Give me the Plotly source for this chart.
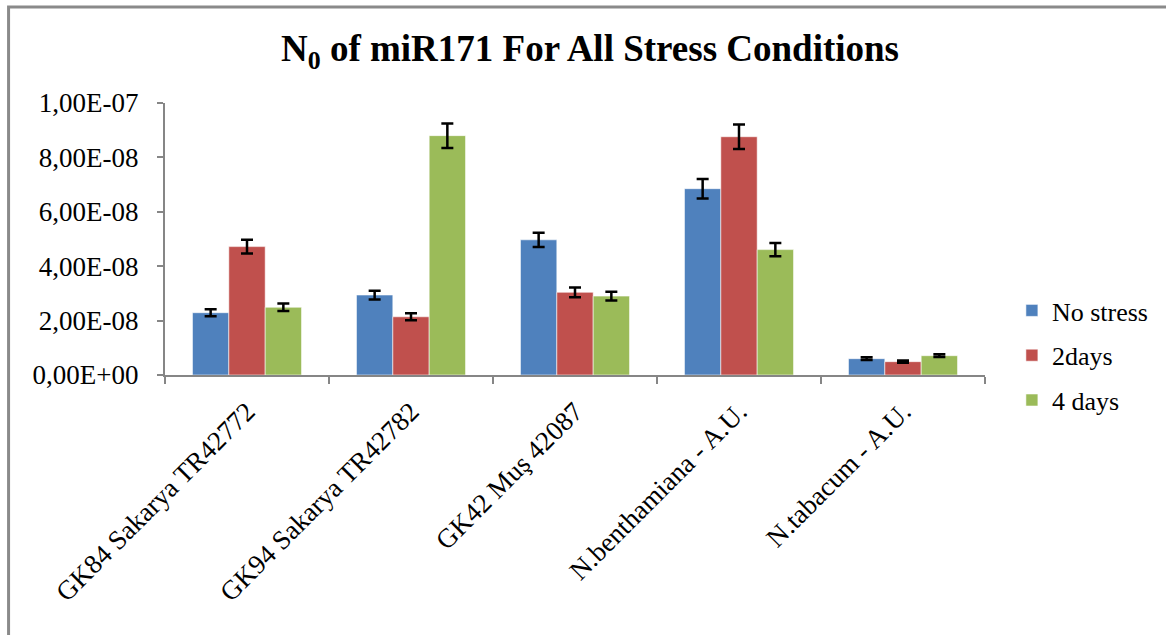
import plotly.graph_objects as go

categories = ["GK84 Sakarya TR42772", "GK94 Sakarya TR42782", "GK42 Muş 42087",
              "N.benthamiana - A.U.", "N.tabacum - A.U."]
series_names = ["No stress", "2days", "4 days"]
no_stress = [2.29e-8, 2.94e-8, 4.97e-8, 6.85e-8, 6.0e-9]
two_days = [4.72e-8, 2.14e-8, 3.04e-8, 8.76e-8, 4.9e-9]
four_days = [2.49e-8, 8.80e-8, 2.90e-8, 4.61e-8, 7.1e-9]
no_stress_err = [1.3e-9, 1.6e-9, 2.6e-9, 3.6e-9, 5e-10]
two_days_err = [2.5e-9, 1.3e-9, 1.8e-9, 4.5e-9, 4e-10]
four_days_err = [1.35e-9, 4.5e-9, 1.6e-9, 2.4e-9, 5e-10]
tick_vals = [0, 2e-8, 4e-8, 6e-8, 8e-8, 1e-7]
tick_text = ["0,00E+00", "2,00E-08", "4,00E-08", "6,00E-08", "8,00E-08", "1,00E-07"]
colors = ["#4F81BD", "#C0504D", "#9BBB59"]

FONT = "Liberation Serif, Times New Roman, serif"

fig = go.Figure()
for name, vals, errs, col in zip(series_names, [no_stress, two_days, four_days],
                                 [no_stress_err, two_days_err, four_days_err], colors):
    fig.add_trace(go.Bar(
        name=name, x=categories, y=vals, legendgroup=name,
        marker=dict(color=col, line=dict(color="rgba(255,255,255,0.55)", width=1)),
        error_y=dict(type="data", array=errs, visible=True, color="black",
                     thickness=2.5, width=6),
    ))

# plot area in pixels: x 165..988, y 103..375
L, R, T, B = 165, 988, 103, 375
W, H = 1166, 635
pw, ph = R - L, B - T

fig.update_layout(
    width=W, height=H,
    margin=dict(l=L, r=W - R, t=T, b=H - B, pad=0),
    paper_bgcolor="white", plot_bgcolor="white",
    barmode="group", bargap=0.335, bargroupgap=0,
    font=dict(family=FONT, size=24, color="black"),
    title=dict(text="<b>N<sub>0</sub> of miR171 For All Stress Conditions</b>",
               x=590 / W, xanchor="center", y=1 - 48 / H, yanchor="middle",
               font=dict(family=FONT, size=37, color="black")),
    showlegend=True,
    legend=dict(x=(1015 - L) / pw, xanchor="left", y=(B - 287) / ph, yanchor="top",
                traceorder="grouped", tracegroupgap=8,
                font=dict(family=FONT, size=26, color="black"),
                bgcolor="rgba(0,0,0,0)", itemwidth=30),
    xaxis=dict(showline=True, linecolor="#868686", linewidth=2,
               ticks="outside", tickson="boundaries", ticklen=7, tickcolor="#868686",
               tickwidth=2, tickangle=-45, showgrid=False,
               ticklabelstandoff=8,
               tickfont=dict(family=FONT, size=27, color="black")),
    yaxis=dict(range=[0, 1e-7], showline=True, linecolor="#868686", linewidth=2,
               ticks="outside", ticklen=6, tickcolor="#868686", tickwidth=2,
               tickvals=tick_vals, ticktext=tick_text, showgrid=False, zeroline=False,
               ticklabelstandoff=13,
               tickfont=dict(family=FONT, size=27, color="black")),
    shapes=[dict(type="rect", xref="paper", yref="paper",
                 x0=(8 - L) / pw, x1=(1175 - L) / pw,
                 y0=(B - 645) / ph, y1=(B - 7) / ph,
                 line=dict(color="#8a8a8a", width=3), fillcolor="rgba(0,0,0,0)",
                 layer="below")],
)

fig.write_html("out.html", config={"displayModeBar": False},
               post_script="document.body.style.margin='0px';")
